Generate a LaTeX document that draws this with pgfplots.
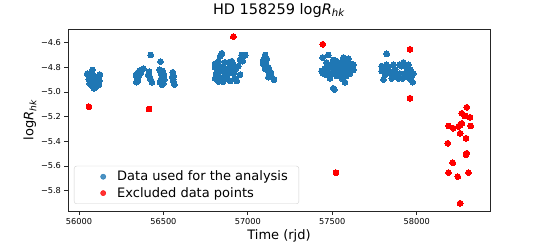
\documentclass[border=0pt]{standalone}
\usepackage{fontspec}
\setmainfont{DejaVu Sans}
\usepackage{pgfplots}
\pgfplotsset{compat=1.18}
\definecolor{mplblue}{HTML}{1F77B4}
\definecolor{mplred}{HTML}{FF0000}
\pgfplotsset{
  legblue/.style={legend image code/.code={\path[draw=none,fill=none] (0pt,-4pt) rectangle (29pt,4pt); \fill[mplblue] (20pt,0pt) circle (2.6pt);}},
  legred/.style={legend image code/.code={\path[draw=none,fill=none] (0pt,-4pt) rectangle (29pt,4pt); \fill[mplred] (20pt,0pt) circle (2.6pt);}}
}
\begin{document}
\begin{tikzpicture}
\useasboundingbox (-68pt,-31pt) rectangle (477pt,211pt);
\begin{axis}[
  at={(0,0)}, anchor=south west,
  scale only axis, width=422pt, height=182pt,
  xmin=55935, xmax=58434, ymin=-5.965, ymax=-4.489,
  axis line style={black!85, line width=0.8pt},
  tick align=outside, tick pos=left,
  major tick length=3.5pt,
  every tick/.style={black!85, line width=0.8pt},
  xtick={56000,56500,57000,57500,58000},
  xticklabels={56000,56500,57000,57500,58000},
  ytick={-5.8,-5.6,-5.4,-5.2,-5.0,-4.8,-4.6},
  yticklabels={−5.8,−5.6,−5.4,−5.2,−5.0,−4.8,−4.6},
  scaled x ticks=false, scaled y ticks=false,
  ticklabel style={font=\fontsize{8.2}{10}\selectfont},
  title={HD 158259 log\textit{R}\textsubscript{\textit{hk}}},
  title style={font=\fontsize{14.5}{16}\selectfont, at={(rel axis cs:0.5,1)}, anchor=base, yshift=9pt},
  xlabel={Time (rjd)},
  xlabel style={font=\fontsize{13}{15}\selectfont, at={(rel axis cs:0.5,0)}, anchor=base, yshift=-28pt},
  ylabel={log\textit{R}\textsubscript{\textit{hk}}},
  ylabel style={font=\fontsize{13}{15}\selectfont, at={(axis description cs:-0.0818,0.5)}, anchor=base},
  legend cell align=left,
  legend style={at={(rel axis cs:0.0142,0.0385)}, anchor=south west,
    draw=black!18, rounded corners=2.5pt, fill=white, fill opacity=0.8, text opacity=1,
    font=\fontsize{13}{15}\selectfont, inner xsep=9pt, inner ysep=3pt, row sep=1pt,
    /tikz/every odd column/.append style={column sep=3pt}},
]
\addplot[only marks, mark=*, mark size=2.9pt, mark options={fill=mplblue, draw=mplblue, line width=0pt}, legblue] coordinates {
(56049,-4.851) (56080,-4.821) (56124,-4.859) (56060,-4.88) (56066,-4.90) (56072,-4.92)
(56078,-4.94) (56084,-4.96) (56090,-4.97) (56096,-4.95) (56102,-4.93) (56108,-4.91)
(56114,-4.89) (56118,-4.94) (56070,-4.87) (56075,-4.89) (56082,-4.91) (56088,-4.93)
(56094,-4.90) (56100,-4.88) (56106,-4.95) (56112,-4.92) (56063,-4.93) (56087,-4.87)
(56098,-4.96) (56120,-4.91) (56058,-4.90) (56092,-4.94) (56104,-4.90) (56076,-4.95)
(56338,-4.86) (56342,-4.88) (56345,-4.90) (56340,-4.92) (56350,-4.84) (56355,-4.87)
(56360,-4.83) (56365,-4.85) (56348,-4.91) (56370,-4.82) (56381,-4.81)
(56415,-4.835) (56410,-4.86) (56420,-4.88) (56425,-4.90) (56432,-4.92) (56425,-4.70)
(56483,-4.754) (56478,-4.82) (56485,-4.84) (56490,-4.86) (56495,-4.88) (56500,-4.85)
(56505,-4.90) (56480,-4.92) (56492,-4.94) (56500,-4.93) (56488,-4.89) (56503,-4.87) (56496,-4.83)
(56555,-4.84) (56560,-4.87) (56558,-4.90) (56562,-4.92) (56565,-4.94) (56552,-4.88)
(56846,-4.686) (56836,-4.71) (56826,-4.75) (56816,-4.78) (56806,-4.80) (56812,-4.85)
(56816,-4.89) (56826,-4.916) (56836,-4.88) (56846,-4.83) (56855,-4.79) (56865,-4.76)
(56855,-4.89) (56865,-4.86) (56875,-4.82) (56885,-4.76) (56895,-4.79) (56905,-4.75)
(56915,-4.78) (56905,-4.82) (56915,-4.85) (56925,-4.89) (56934,-4.91) (56954,-4.86)
(56964,-4.70) (56974,-4.71) (56970,-4.75) (56954,-4.74) (56944,-4.79) (56984,-4.70)
(56832,-4.82) (56820,-4.84) (56840,-4.80) (56851,-4.916) (56875,-4.89) (56885,-4.85)
(56895,-4.91) (56806,-4.89) (56806,-4.77) (56925,-4.82)
(57102,-4.70) (57112,-4.73) (57096,-4.76) (57108,-4.78) (57090,-4.77) (57122,-4.80)
(57102,-4.81) (57112,-4.82) (57128,-4.85) (57132,-4.87) (57142,-4.88) (57155,-4.90)
(57122,-4.88) (57092,-4.74) (57136,-4.84)
(57443,-4.72) (57476,-4.70) (57437,-4.83) (57466,-4.76) (57486,-4.79) (57506,-4.74)
(57526,-4.75) (57516,-4.81) (57496,-4.85) (57536,-4.82) (57546,-4.86) (57566,-4.72)
(57575,-4.75) (57585,-4.78) (57605,-4.77) (57615,-4.79) (57625,-4.78) (57595,-4.82)
(57575,-4.92) (57556,-4.89) (57526,-4.87) (57506,-4.97) (57512,-4.98) (57466,-4.86)
(57486,-4.89) (57456,-4.81) (57556,-4.79) (57605,-4.85) (57585,-4.85) (57536,-4.79)
(57566,-4.83) (57446,-4.85) (57625,-4.82) (57476,-4.82) (57502,-4.78) (57522,-4.83)
(57552,-4.76) (57581,-4.87) (57595,-4.73)
(57822,-4.69) (57793,-4.79) (57803,-4.82) (57803,-4.90) (57822,-4.78) (57832,-4.82)
(57842,-4.85) (57862,-4.78) (57872,-4.82) (57882,-4.87) (57891,-4.89) (57901,-4.85)
(57911,-4.79) (57921,-4.76) (57931,-4.79) (57941,-4.83) (57951,-4.78) (57961,-4.82)
(57970,-4.87) (57976,-4.92) (57980,-4.85) (57957,-4.89) (57931,-4.86) (57917,-4.89)
(57852,-4.89) (57812,-4.86) (57793,-4.83) (57901,-4.78) (57866,-4.85) (57965,-4.86)
};
\addlegendentry{Data used for the analysis}
\addplot[only marks, mark=*, mark size=2.9pt, mark options={fill=mplred, draw=mplred, line width=0pt}, legred] coordinates {
(56059,-5.119) (56415,-5.138) (56914,-4.551) (57443,-4.613) (57522,-5.654)
(57960,-4.654) (57960,-5.05)
(58296,-5.124) (58267,-5.173) (58286,-5.194) (58316,-5.205) (58188,-5.275) (58217,-5.294)
(58257,-5.267) (58247,-5.281) (58267,-5.254) (58319,-5.275) (58257,-5.335) (58292,-5.375)
(58184,-5.416) (58296,-5.497) (58292,-5.51) (58213,-5.573) (58188,-5.654) (58306,-5.654)
(58243,-5.686) (58257,-5.902)
};
\addlegendentry{Excluded data points}
\end{axis}
\end{tikzpicture}
\end{document}
